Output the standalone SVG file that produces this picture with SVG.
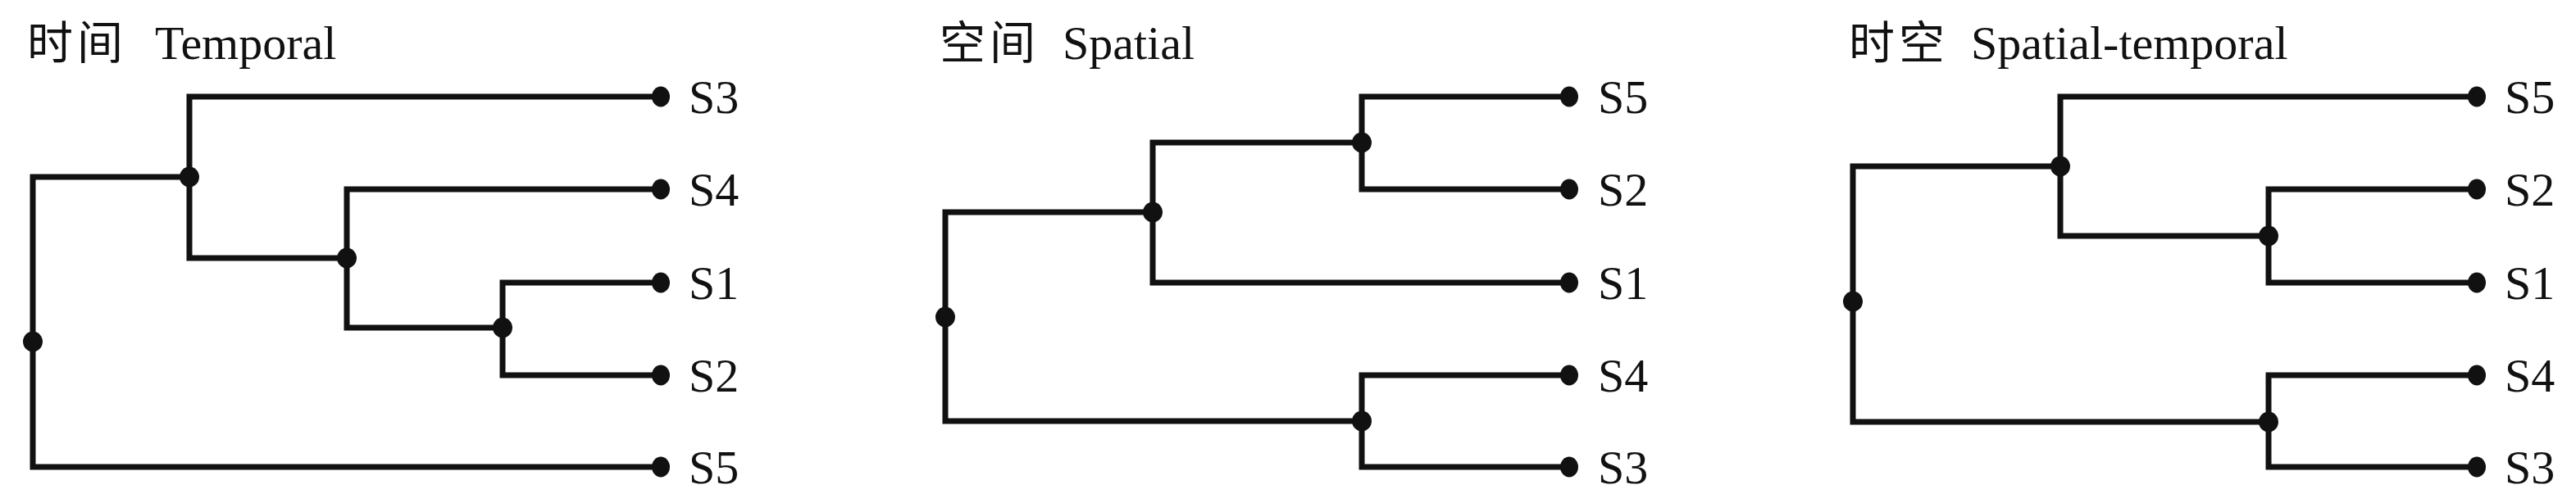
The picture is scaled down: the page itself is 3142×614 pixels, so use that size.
<svg xmlns="http://www.w3.org/2000/svg" width="3142" height="614" viewBox="0 0 3142 614">
<style>
.bg{fill:#ffffff}
.ln{fill:none;stroke:#111111;stroke-width:7;stroke-linejoin:miter;stroke-linecap:butt}
.dot{fill:#111111}
.lbl{font-family:"Liberation Serif","Times New Roman",serif;font-size:58px;fill:#111111}
.ttl{font-family:"Liberation Serif","Times New Roman",serif;font-size:58px;fill:#111111}
.cjk{font-family:"Noto Sans CJK SC","Noto Sans CJK TC",sans-serif;font-size:56px;letter-spacing:5px;fill:#111111}
</style>
<rect class="bg" x="0" y="0" width="3142" height="614"/>

<g id="titles">
  <text class="cjk" x="33" y="72">时间</text>
  <text class="ttl" x="189" y="72">Temporal</text>
  <text class="cjk" x="1146" y="72">空间</text>
  <text class="ttl" x="1296" y="72">Spatial</text>
  <text class="cjk" x="2255" y="72">时空</text>
  <text class="ttl" x="2404" y="72">Spatial-temporal</text>
</g>

<g id="connectors">
  <!-- Temporal -->
  <path class="ln" d="M231 216 H40 V570 H806"/>
  <path class="ln" d="M806 118 H231 V315 H423"/>
  <path class="ln" d="M806 231 H423 V400 H613"/>
  <path class="ln" d="M806 345 H613 V458 H806"/>
  <!-- Spatial -->
  <path class="ln" d="M1406 259 H1153 V514 H1661"/>
  <path class="ln" d="M1661 174 H1406 V345 H1914"/>
  <path class="ln" d="M1914 118 H1661 V231 H1914"/>
  <path class="ln" d="M1914 458 H1661 V570 H1914"/>
  <!-- Spatial-temporal -->
  <path class="ln" d="M2513 203 H2260 V515 H2767"/>
  <path class="ln" d="M3021 118 H2513 V288 H2767"/>
  <path class="ln" d="M3021 231 H2767 V345 H3021"/>
  <path class="ln" d="M3021 458 H2767 V570 H3021"/>
</g>

<!-- Temporal nodes -->
<g id="t-root"><ellipse class="dot" cx="40" cy="417" rx="12" ry="12.5"/></g>
<g id="t-n1"><ellipse class="dot" cx="231" cy="216" rx="12" ry="12.5"/></g>
<g id="t-n2"><ellipse class="dot" cx="423" cy="315" rx="12" ry="12.5"/></g>
<g id="t-n3"><ellipse class="dot" cx="613" cy="400" rx="12" ry="12.5"/></g>
<g id="t-S3"><ellipse class="dot" cx="806" cy="118" rx="11" ry="12.5"/><text class="lbl" x="840" y="138">S3</text></g>
<g id="t-S4"><ellipse class="dot" cx="806" cy="231" rx="11" ry="12.5"/><text class="lbl" x="840" y="251">S4</text></g>
<g id="t-S1"><ellipse class="dot" cx="806" cy="345" rx="11" ry="12.5"/><text class="lbl" x="840" y="365">S1</text></g>
<g id="t-S2"><ellipse class="dot" cx="806" cy="458" rx="11" ry="12.5"/><text class="lbl" x="840" y="478">S2</text></g>
<g id="t-S5"><ellipse class="dot" cx="806" cy="570" rx="11" ry="12.5"/><text class="lbl" x="840" y="590">S5</text></g>

<!-- Spatial nodes -->
<g id="s-root"><ellipse class="dot" cx="1153" cy="387" rx="12" ry="12.5"/></g>
<g id="s-nB"><ellipse class="dot" cx="1406" cy="259" rx="12" ry="12.5"/></g>
<g id="s-nA"><ellipse class="dot" cx="1661" cy="174" rx="12" ry="12.5"/></g>
<g id="s-nC"><ellipse class="dot" cx="1661" cy="514" rx="12" ry="12.5"/></g>
<g id="s-S5"><ellipse class="dot" cx="1914" cy="118" rx="11" ry="12.5"/><text class="lbl" x="1949" y="138">S5</text></g>
<g id="s-S2"><ellipse class="dot" cx="1914" cy="231" rx="11" ry="12.5"/><text class="lbl" x="1949" y="251">S2</text></g>
<g id="s-S1"><ellipse class="dot" cx="1914" cy="345" rx="11" ry="12.5"/><text class="lbl" x="1949" y="365">S1</text></g>
<g id="s-S4"><ellipse class="dot" cx="1914" cy="458" rx="11" ry="12.5"/><text class="lbl" x="1949" y="478">S4</text></g>
<g id="s-S3"><ellipse class="dot" cx="1914" cy="570" rx="11" ry="12.5"/><text class="lbl" x="1949" y="590">S3</text></g>

<!-- Spatial-temporal nodes -->
<g id="st-root"><ellipse class="dot" cx="2260" cy="368" rx="12" ry="12.5"/></g>
<g id="st-n1"><ellipse class="dot" cx="2513" cy="203" rx="12" ry="12.5"/></g>
<g id="st-n2"><ellipse class="dot" cx="2767" cy="288" rx="12" ry="12.5"/></g>
<g id="st-n3"><ellipse class="dot" cx="2767" cy="515" rx="12" ry="12.5"/></g>
<g id="st-S5"><ellipse class="dot" cx="3021" cy="118" rx="11" ry="12.5"/><text class="lbl" x="3055" y="138">S5</text></g>
<g id="st-S2"><ellipse class="dot" cx="3021" cy="231" rx="11" ry="12.5"/><text class="lbl" x="3055" y="251">S2</text></g>
<g id="st-S1"><ellipse class="dot" cx="3021" cy="345" rx="11" ry="12.5"/><text class="lbl" x="3055" y="365">S1</text></g>
<g id="st-S4"><ellipse class="dot" cx="3021" cy="458" rx="11" ry="12.5"/><text class="lbl" x="3055" y="478">S4</text></g>
<g id="st-S3"><ellipse class="dot" cx="3021" cy="570" rx="11" ry="12.5"/><text class="lbl" x="3055" y="590">S3</text></g>
</svg>
